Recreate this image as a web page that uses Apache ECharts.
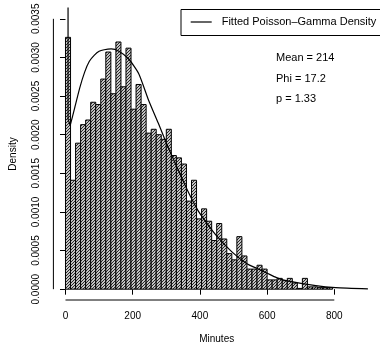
<!DOCTYPE html>
<html>
<head>
<meta charset="utf-8">
<script src="https://cdn.jsdelivr.net/npm/echarts@6/dist/echarts.min.js"></script>
<style>
html,body{margin:0;padding:0;background:#fff;}
#chart{width:380px;height:349px;}
</style>
</head>
<body>
<div id="chart"></div>
<script>
// ---- data ----
const binWidth = 15;
const densities = [
  0.00326, 0.00141, 0.00189, 0.00213, 0.00219, 0.00242, 0.00239, 0.00272, 0.00307, 0.00253,
  0.00320, 0.00262, 0.00312, 0.00233, 0.00265, 0.00239, 0.00202, 0.00207, 0.00200, 0.00194,
  0.00207, 0.00173, 0.00170, 0.00162, 0.00114, 0.00141, 0.00091, 0.00104, 0.00088, 0.00063,
  0.00085, 0.00065, 0.00046, 0.00038, 0.00068, 0.00043, 0.00026, 0.00026, 0.00031, 0.00026,
  0.00012, 0.00012, 0.00014, 0.00011, 0.00014, 0.00008, 0.00001, 0.00014, 0.00003, 0.00003,
  0.00002, 0.00002, 0.00002
];
const spikeX = [7.6, 7.6, 14];
const spikeY = [0.0045, 0.0022, 0.00212];
const curveX = [14, 27, 42, 57, 71, 86, 100, 115, 136, 159, 188, 218, 247, 276, 306, 335, 364, 394, 423, 452, 496, 540, 569, 599, 628, 657, 745, 804, 900];
const curveY = [0.00212, 0.00234, 0.00260, 0.00281, 0.00295, 0.00303, 0.00308, 0.00310, 0.00311, 0.00308, 0.00298, 0.00279, 0.00245, 0.00215, 0.00183, 0.00155, 0.00127, 0.00102, 0.00084, 0.00068, 0.00048, 0.00033, 0.00027, 0.00021, 0.00015, 0.00011, 0.000045, 0.00002, 0.000005];
const xTicks = [0, 200, 400, 600, 800];
const yTicks = [0, 0.0005, 0.0010, 0.0015, 0.0020, 0.0025, 0.0030, 0.0035];
const yTickLabels = ['0.0000', '0.0005', '0.0010', '0.0015', '0.0020', '0.0025', '0.0030', '0.0035'];
const legendLabel = 'Fitted Poisson\u2013Gamma Density';
const statLines = ['Mean = 214', 'Phi = 17.2', 'p = 1.33'];

// ---- layout ----
const X_MIN = -36, X_MAX = 936;
const Y_MIN = -0.00014, Y_MAX = 0.00364;
const FONT = '"Liberation Sans", Arial, sans-serif';

// hatch pattern
const pat = document.createElement('canvas');
pat.width = 3; pat.height = 3;
const pctx = pat.getContext('2d');
pctx.fillStyle = '#c4c4c4';
pctx.fillRect(0, 0, 3, 3);
pctx.fillStyle = '#262626';
for (let i = 0; i < 3; i++) {
  pctx.fillRect(i, 2 - i, 1, 1);
}

const barData = densities.map((d, i) => [i * binWidth, (i + 1) * binWidth, d]);
const curveData = curveX.map((x, i) => [x, curveY[i]]);
const spikeData = spikeX.map((x, i) => [x, spikeY[i]]);

const chart = echarts.init(document.getElementById('chart'), null, {renderer: 'canvas'});
chart.setOption({
  animation: false,
  backgroundColor: '#fff',
  textStyle: {fontFamily: FONT},
  grid: {left: 53.4, top: 8, width: 331.8, height: 296.5, containLabel: false},
  xAxis: {
    type: 'value', min: X_MIN, max: X_MAX,
    splitLine: {show: false},
    axisLine: {show: false},
    axisTick: {show: true, length: 5.5, customValues: xTicks, lineStyle: {color: '#000', width: 1}},
    axisLabel: {customValues: xTicks, fontSize: 10, color: '#000', margin: 11, fontFamily: FONT},
    name: 'Minutes', nameLocation: 'middle', nameGap: 34,
    nameTextStyle: {fontSize: 10, color: '#000', fontFamily: FONT}
  },
  yAxis: {
    type: 'value', min: Y_MIN, max: Y_MAX,
    splitLine: {show: false},
    axisLine: {show: false},
    axisTick: {show: true, length: 5.5, customValues: yTicks, lineStyle: {color: '#000', width: 1}},
    axisLabel: {
      customValues: yTicks, rotate: 90, fontSize: 10, color: '#000', margin: 12, fontFamily: FONT,
      formatter: function (v) {
        const idx = yTicks.findIndex(t => Math.abs(t - v) < 1e-9);
        return idx >= 0 ? yTickLabels[idx] : '';
      }
    },
    name: 'Density', nameLocation: 'middle', nameGap: 35, nameRotate: 90,
    nameTextStyle: {fontSize: 10, color: '#000', fontFamily: FONT}
  },
  series: [
    {
      type: 'custom',
      name: 'hist',
      data: barData,
      clip: true,
      renderItem: function (params, api) {
        const p0 = api.coord([api.value(0), api.value(2)]);
        const p1 = api.coord([api.value(1), 0]);
        return {
          type: 'rect',
          shape: {x: p0[0], y: p0[1], width: p1[0] - p0[0], height: p1[1] - p0[1]},
          style: {fill: {image: pat, repeat: 'repeat'}, stroke: '#000', lineWidth: 1}
        };
      },
      encode: {x: [0, 1], y: 2},
      silent: true
    },
    {
      type: 'line', name: legendLabel, data: curveData, showSymbol: false,
      smooth: 0.2,
      lineStyle: {color: '#000', width: 1.2}, itemStyle: {color: '#000'}, clip: true, silent: true
    },
    {
      type: 'line', name: 'spike', data: spikeData, showSymbol: false,
      lineStyle: {color: '#000', width: 1.2}, clip: true, silent: true
    },
    {
      type: 'line', name: 'xaxisline', showSymbol: false, clip: false, silent: true,
      data: [[xTicks[0], Y_MIN], [xTicks[xTicks.length - 1], Y_MIN]],
      lineStyle: {color: '#000', width: 1}
    },
    {
      type: 'line', name: 'yaxisline', showSymbol: false, clip: false, silent: true,
      data: [[X_MIN, yTicks[0]], [X_MIN, yTicks[yTicks.length - 1]]],
      lineStyle: {color: '#000', width: 1}
    }
  ],
  graphic: [
    {type: 'rect', left: 180.5, top: 9, shape: {width: 220, height: 26}, style: {fill: '#fff', stroke: '#000', lineWidth: 1}, z: 100},
    {type: 'line', shape: {x1: 190.7, y1: 22, x2: 211.7, y2: 22}, style: {stroke: '#000', lineWidth: 1.2}, z: 101},
    {type: 'text', x: 221.7, y: 22, style: {text: legendLabel, fontSize: 11, fill: '#000', fontFamily: FONT, textVerticalAlign: 'middle', verticalAlign: 'middle'}, z: 101}
  ].concat(statLines.map((s, i) => ({
    type: 'text', x: 276, y: 58.3 + i * 20.5,
    style: {text: s, fontSize: 11, fill: '#000', fontFamily: FONT, verticalAlign: 'middle'}
  })))
});
</script>
</body>
</html>
